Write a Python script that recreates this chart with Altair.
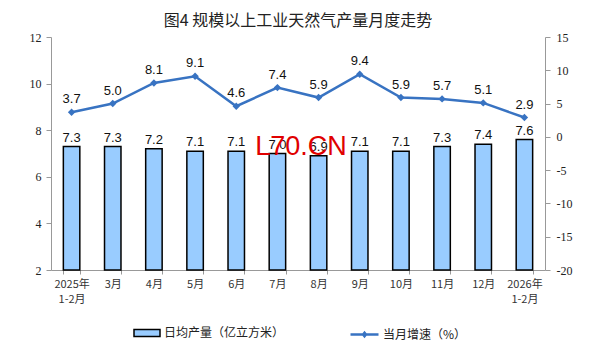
import altair as alt
import pandas as pd

months = ["2025年\n1-2月", "3月", "4月", "5月", "6月", "7月", "8月", "9月",
          "10月", "11月", "12月", "2026年\n1-2月"]
daily_output = [7.3, 7.3, 7.2, 7.1, 7.1, 7.0, 6.9, 7.1, 7.1, 7.3, 7.4, 7.6]
growth = [3.7, 5.0, 8.1, 9.1, 4.6, 7.4, 5.9, 9.4, 5.9, 5.7, 5.1, 2.9]
bar_name = "日均产量（亿立方米）"
line_name = "当月增速（%）"
title_text = "图4 规模以上工业天然气产量月度走势"
left_ticks = [2, 4, 6, 8, 10, 12]
right_ticks = [-20, -15, -10, -5, 0, 5, 10, 15]

df = pd.DataFrame({"month": months, "output": daily_output, "growth": growth,
                   "bar_s": [bar_name] * len(months), "line_s": [line_name] * len(months)})

SERIF = "Liberation Serif"
SANS = "Liberation Sans"
CJK = "Noto Sans CJK SC"
BAR_FILL = "#99CCFF"
LINE_COL = "#3873C2"

x = alt.X("month:N", sort=months, title=None,
          scale=alt.Scale(paddingInner=0.6, paddingOuter=0.3),
          axis=alt.Axis(labelAngle=0, labelExpr="split(datum.label, '\\n')",
                        tickBand="extent", labelFont=CJK, labelFontSize=11,
                        labelColor="#333", labelLineHeight=15, labelPadding=4,
                        domainColor="#999", tickColor="#999", tickSize=4))

y_left = alt.Y("output:Q", title=None,
               scale=alt.Scale(domain=[2, 12], zero=False, nice=False),
               axis=alt.Axis(values=left_ticks, grid=False, labelFont=SERIF,
                             labelFontSize=12, labelColor="#222", domainColor="#999",
                             tickColor="#999", tickSize=5, labelPadding=5))

y_right = alt.Y("growth:Q", title=None,
                scale=alt.Scale(domain=[-20, 15], zero=False, nice=False),
                axis=alt.Axis(orient="right", values=right_ticks, grid=False,
                              labelExpr="'' + datum.value",
                              labelFont=SERIF, labelFontSize=12, labelColor="#222",
                              domainColor="#999", tickColor="#999", tickSize=5,
                              labelPadding=6))

base = alt.Chart(df)

bars = base.mark_bar(stroke="black", strokeWidth=1.5).encode(
    x=x, y=y_left, y2=alt.datum(2),
    color=alt.Color("bar_s:N", scale=alt.Scale(range=[BAR_FILL]),
                    legend=alt.Legend(title=None, orient="none", legendX=82, legendY=282,
                                      symbolType="M-1,-0.27H1V0.27H-1Z", symbolSize=676,
                                      symbolStrokeColor="black", symbolStrokeWidth=1.5,
                                      labelFont=CJK, labelFontSize=12, labelColor="#222",
                                      labelOffset=3)))
bar_text = base.mark_text(dy=-9, font=SANS, fontSize=13, color="#111").encode(
    x=x, y=y_left, text=alt.Text("output:Q", format=".1f"))

left = alt.layer(bars, bar_text)

line = base.mark_line(strokeWidth=2.5).encode(
    x=x, y=y_right,
    color=alt.Color("line_s:N", scale=alt.Scale(range=[LINE_COL]),
                    legend=alt.Legend(title=None, orient="none", legendX=298, legendY=282,
                                      symbolType="M-1,0H1M-0.1,0L0,-0.12L0.1,0L0,0.12Z",
                                      symbolSize=784, symbolStrokeWidth=2.5,
                                      labelFont=CJK, labelFontSize=12, labelColor="#222",
                                      labelOffset=3)))
pts = base.mark_point(shape="diamond", filled=True, size=55, color=LINE_COL, opacity=1).encode(
    x=x, y=y_right)
line_text = base.mark_text(dy=-13, font=SANS, fontSize=13, color="#111").encode(
    x=x, y=y_right, text=alt.Text("growth:Q", format=".1f"))

right = alt.layer(line, pts, line_text)

watermark = alt.Chart(pd.DataFrame({"t": ["L70.CN"]})).mark_text(
    font=SANS, fontSize=27, color="#E00000", align="center", baseline="middle").encode(
    text="t:N", x=alt.value(250), y=alt.value(110))

chart = alt.layer(left, right, watermark).resolve_scale(
    y="independent", color="independent").properties(
    width=494, height=233,
    title=alt.TitleParams(title_text, font=CJK, fontSize=16, fontWeight="normal",
                          color="#222", offset=2),
    padding={"left": 51, "top": 37, "right": 59, "bottom": 84},
    autosize="none",
).configure_view(stroke=None)

chart.save("out.html", embed_options={"renderer": "svg", "actions": False})
